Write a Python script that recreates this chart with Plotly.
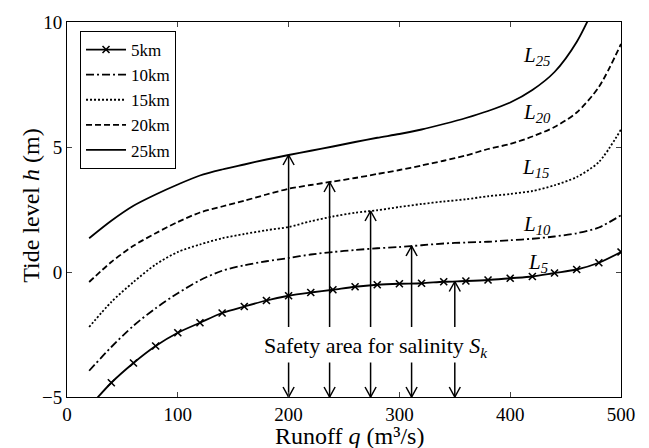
import plotly.graph_objects as go

# Runoff q (m^3/s)
runoff = [20, 40, 60, 80, 100, 120, 140, 160, 180, 200, 220, 240, 260, 280, 300,
          320, 340, 360, 380, 400, 420, 440, 460, 480, 500]

# Tide level h (m) per distance
h_5km = [-5.4, -4.43, -3.64, -2.96, -2.43, -2.03, -1.64, -1.38, -1.14, -0.95, -0.82, -0.71, -0.59,
         -0.51, -0.47, -0.45, -0.39, -0.36, -0.32, -0.25, -0.18, -0.04, 0.1, 0.37, 0.8]
h_10km = [-3.95, -3.0, -2.15, -1.45, -0.85, -0.33, 0.05, 0.27, 0.43, 0.56, 0.7, 0.8, 0.88,
          0.95, 1.0, 1.07, 1.14, 1.18, 1.21, 1.27, 1.33, 1.42, 1.55, 1.78, 2.27]
h_15km = [-2.2, -1.2, -0.4, 0.3, 0.8, 1.1, 1.35, 1.52, 1.67, 1.8, 2.03, 2.22, 2.37,
          2.47, 2.6, 2.72, 2.82, 2.91, 3.03, 3.12, 3.24, 3.47, 3.8, 4.4, 5.7]
h_20km = [-0.4, 0.4, 1.05, 1.55, 2.0, 2.38, 2.62, 2.85, 3.1, 3.33, 3.48, 3.62, 3.76,
          3.92, 4.08, 4.26, 4.45, 4.66, 4.92, 5.12, 5.42, 5.8, 6.38, 7.4, 9.12]
h_25km = [1.35, 2.05, 2.65, 3.1, 3.5, 3.86, 4.1, 4.3, 4.5, 4.68, 4.85, 5.02, 5.2,
          5.37, 5.52, 5.7, 5.92, 6.16, 6.44, 6.78, 7.28, 8.0, 9.2, 11.0, None]

series_names = ["5km", "10km", "15km", "20km", "25km"]
curve_labels = ["L<sub>5</sub>", "L<sub>10</sub>", "L<sub>15</sub>", "L<sub>20</sub>", "L<sub>25</sub>"]
label_x = [425, 424, 423, 424, 424]
label_y = [0.37, 1.88, 4.18, 6.36, 8.66]

# Safety-area arrows: runoff positions and tide level where each arrow meets its curve
arrow_q = [200, 237, 274, 311, 350]
arrow_top = [4.68, 3.6, 2.44, 1.04, -0.38]
arrow_up_from = -2.2
arrow_down_from = -3.38
axis_bottom = -5

x_title = "Runoff <i>q</i> (m³/s)"
y_title = "Tide level <i>h</i> (m)"
note_text = "Safety area for salinity <i>S<sub>k</sub></i>"

FONT = "Liberation Serif, Times New Roman, serif"

fig = go.Figure()

styles = [
    dict(dash="solid", marker=True),
    dict(dash="8px,3px,2px,3px", marker=False),
    dict(dash="2px,2px", marker=False),
    dict(dash="6px,3px", marker=False),
    dict(dash="solid", marker=False),
]
data = [h_5km, h_10km, h_15km, h_20km, h_25km]
for name, ys, st in zip(series_names, data, styles):
    fig.add_trace(go.Scatter(
        x=runoff, y=ys, name=name,
        mode="lines+markers" if st["marker"] else "lines",
        line=dict(color="black", width=1.8, dash=st["dash"], shape="spline", smoothing=0.8),
        marker=dict(symbol="x-thin", size=7, line=dict(color="black", width=1.6)) if st["marker"] else None,
    ))

# arrows
hx, hy = 5, 0.4
ax_pts, ay_pts = [], []
for q, top in zip(arrow_q, arrow_top):
    ax_pts += [q, q, None, q - hx, q, q + hx, None]
    ay_pts += [arrow_up_from, top, None, top - hy, top, top - hy, None]
    ax_pts += [q, q, None, q - hx, q, q + hx, None]
    ay_pts += [arrow_down_from, axis_bottom, None, axis_bottom + hy, axis_bottom, axis_bottom + hy, None]
fig.add_trace(go.Scatter(x=ax_pts, y=ay_pts, mode="lines", showlegend=False,
                         line=dict(color="black", width=1.5), cliponaxis=False, hoverinfo="skip"))

for lab, lx, ly in zip(curve_labels, label_x, label_y):
    fig.add_annotation(x=lx, y=ly, text="<i>" + lab + "</i>", showarrow=False,
                       font=dict(family=FONT, size=21, color="black"))

fig.add_annotation(x=279, y=-2.99, text=note_text,
                   showarrow=False, font=dict(family=FONT, size=22, color="black"),
                   bgcolor="white")

# axis titles placed as annotations for precise positioning
fig.add_annotation(x=0.51, y=-0.103, xref="paper", yref="paper", text=x_title,
                   showarrow=False, yanchor="middle", xanchor="center",
                   font=dict(family=FONT, size=24, color="black"))
fig.add_annotation(x=-0.065, y=0.51, xref="paper", yref="paper", text=y_title,
                   showarrow=False, textangle=-90, xanchor="center", yanchor="middle",
                   font=dict(family=FONT, size=24, color="black"))

fig.update_layout(
    width=649, height=448,
    margin=dict(l=67, r=28, t=17, b=51),
    paper_bgcolor="white", plot_bgcolor="white",
    font=dict(family=FONT, size=19, color="black"),
    showlegend=True,
    legend=dict(x=0.0235, y=0.976, xanchor="left", yanchor="top",
                bordercolor="black", borderwidth=1, bgcolor="white",
                font=dict(family=FONT, size=17), itemwidth=40,
                tracegroupgap=0),
)
fig.update_xaxes(range=[0, 500], dtick=100, ticks="inside", ticklen=5, tickwidth=1,
                 showline=True, linecolor="black", linewidth=1, mirror="ticks",
                 showgrid=False, zeroline=False, tickfont=dict(size=19))
fig.update_yaxes(range=[-5, 10], dtick=5, ticks="inside", ticklen=5, tickwidth=1,
                 showline=True, linecolor="black", linewidth=1, mirror="ticks",
                 showgrid=False, zeroline=False, tickfont=dict(size=19))

fig.write_html("out.html", config={"displayModeBar": False},
               post_script="document.body.style.margin='0px';")
